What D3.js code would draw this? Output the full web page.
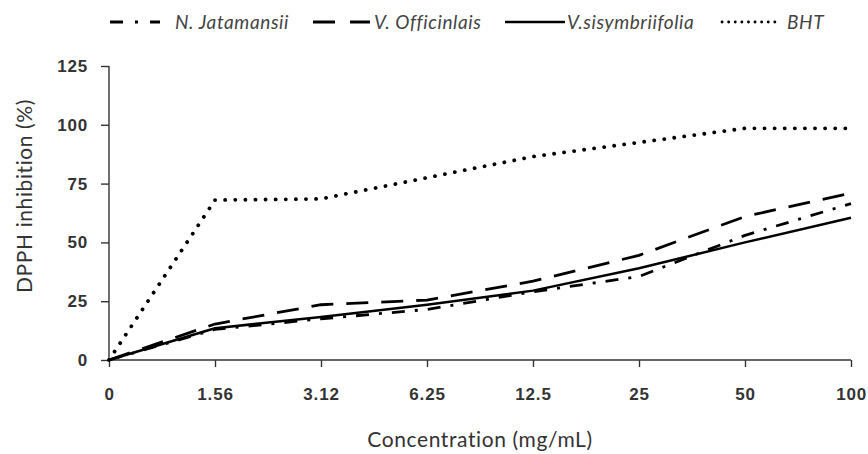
<!DOCTYPE html>
<html>
<head>
<meta charset="utf-8">
<script src="https://cdn.jsdelivr.net/npm/d3@7"></script>
<style>
  body { margin: 0; background: #fff; }
  svg { display: block; font-family: Lato, "Open Sans", sans-serif; }
  .tick text { font-weight: bold; fill: #333; letter-spacing: 0.8px; }
</style>
</head>
<body>
<div id="chart"></div>
<script>
// Concentrations (mg/mL) on the category axis
var concentrations = ["0", "1.56", "3.12", "6.25", "12.5", "25", "50", "100"];

// DPPH inhibition (%) for each extract
var nJatamansii = [0, 13, 17.5, 21.5, 29, 35.5, 53, 66.5];
var vOfficinlais = [0, 15.3, 23.5, 25.5, 33.5, 44.5, 61, 71];
var vSisymbriifolia = [0, 13.5, 18.3, 23.5, 29.5, 39, 50, 60.5];
var bht = [0, 68, 68.5, 77.5, 86.5, 92.5, 98.5, 98.5];

var seriesNames = ["N. Jatamansii", "V. Officinlais", "V.sisymbriifolia", "BHT"];
var yTicks = [0, 25, 50, 75, 100, 125];

var svgWidth = 868;
var svgHeight = 454;

var margin = { top: 66, right: 17, bottom: 94, left: 109 };
var width = svgWidth - margin.left - margin.right;
var height = svgHeight - margin.top - margin.bottom;

var svg = d3.select("#chart")
  .append("svg")
  .attr("width", svgWidth)
  .attr("height", svgHeight);

var chartGroup = svg.append("g")
  .attr("transform", `translate(${margin.left}, ${margin.top})`);

// scales
var xScale = d3.scalePoint()
  .domain(concentrations)
  .range([0, width]);
var yScale = d3.scaleLinear()
  .domain([0, 125])
  .range([height, 0]);

// line styles per series
var dashes = ["13,10,3,10", "22,13", null, "0.1,10"];
var caps = ["butt", "butt", "butt", "round"];
var widths = [2.8, 2.8, 2.5, 3.8];
var legendDashes = ["13,12,3,12", "22,15", null, "0.1,6.5"];
var legendWidths = [3, 3, 2.5, 2.8];

var allSeries = [nJatamansii, vOfficinlais, vSisymbriifolia, bht];

// axes
var bottomAxis = d3.axisBottom(xScale).tickSize(7).tickPadding(21);
var leftAxis = d3.axisLeft(yScale).tickValues(yTicks).tickSize(8).tickPadding(13);

var xAxisG = chartGroup.append("g")
  .attr("transform", `translate(0, ${height})`)
  .call(bottomAxis);
var yAxisG = chartGroup.append("g")
  .call(leftAxis);

[xAxisG, yAxisG].forEach(function(g) {
  g.select(".domain").attr("stroke", "#333").attr("stroke-width", 1.4);
  g.selectAll(".tick line").attr("stroke", "#333").attr("stroke-width", 1.4);
  g.selectAll(".tick text").attr("font-size", 17);
});
// leave the domain path without outer ticks
xAxisG.select(".domain").attr("d", `M0,0H${width}`);
yAxisG.select(".domain").attr("d", `M0,${height}V0`);

// lines
var line = d3.line()
  .x(function(d, i) { return xScale(concentrations[i]); })
  .y(function(d) { return yScale(d); });

allSeries.forEach(function(values, k) {
  chartGroup.append("path")
    .datum(values)
    .attr("d", line)
    .attr("fill", "none")
    .attr("stroke", "#000")
    .attr("stroke-width", widths[k])
    .attr("stroke-dasharray", dashes[k])
    .attr("stroke-linecap", caps[k])
    .attr("stroke-linejoin", "round");
});

// legend
var legendY = 22;
var legendItems = [
  { x1: 110, x2: 160, tx: 175 },
  { x1: 313, x2: 370, tx: 374 },
  { x1: 505, x2: 565, tx: 567 },
  { x1: 722, x2: 779, tx: 787 }
];
var legend = svg.append("g");
legendItems.forEach(function(item, k) {
  legend.append("line")
    .attr("x1", item.x1).attr("x2", item.x2)
    .attr("y1", legendY).attr("y2", legendY)
    .attr("stroke", "#000")
    .attr("stroke-width", legendWidths[k])
    .attr("stroke-dasharray", legendDashes[k])
    .attr("stroke-linecap", caps[k]);
  legend.append("text")
    .attr("x", item.tx)
    .attr("y", legendY)
    .attr("dy", "0.35em")
    .attr("font-size", 19)
    .attr("font-style", "italic")
    .attr("letter-spacing", 0.6)
    .attr("fill", "#444")
    .text(seriesNames[k]);
});

// axis titles
chartGroup.append("text")
  .attr("transform", "rotate(-90)")
  .attr("x", -(height / 2) + 17)
  .attr("y", 25 - margin.left)
  .attr("dy", "0.35em")
  .attr("text-anchor", "middle")
  .attr("font-size", 21)
  .attr("letter-spacing", 0.6)
  .attr("fill", "#333")
  .text("DPPH inhibition (%)");

chartGroup.append("text")
  .attr("x", width / 2)
  .attr("y", height + 80)
  .attr("dy", "0.35em")
  .attr("text-anchor", "middle")
  .attr("font-size", 21)
  .attr("letter-spacing", 0.6)
  .attr("fill", "#333")
  .text("Concentration (mg/mL)");
</script>
</body>
</html>
